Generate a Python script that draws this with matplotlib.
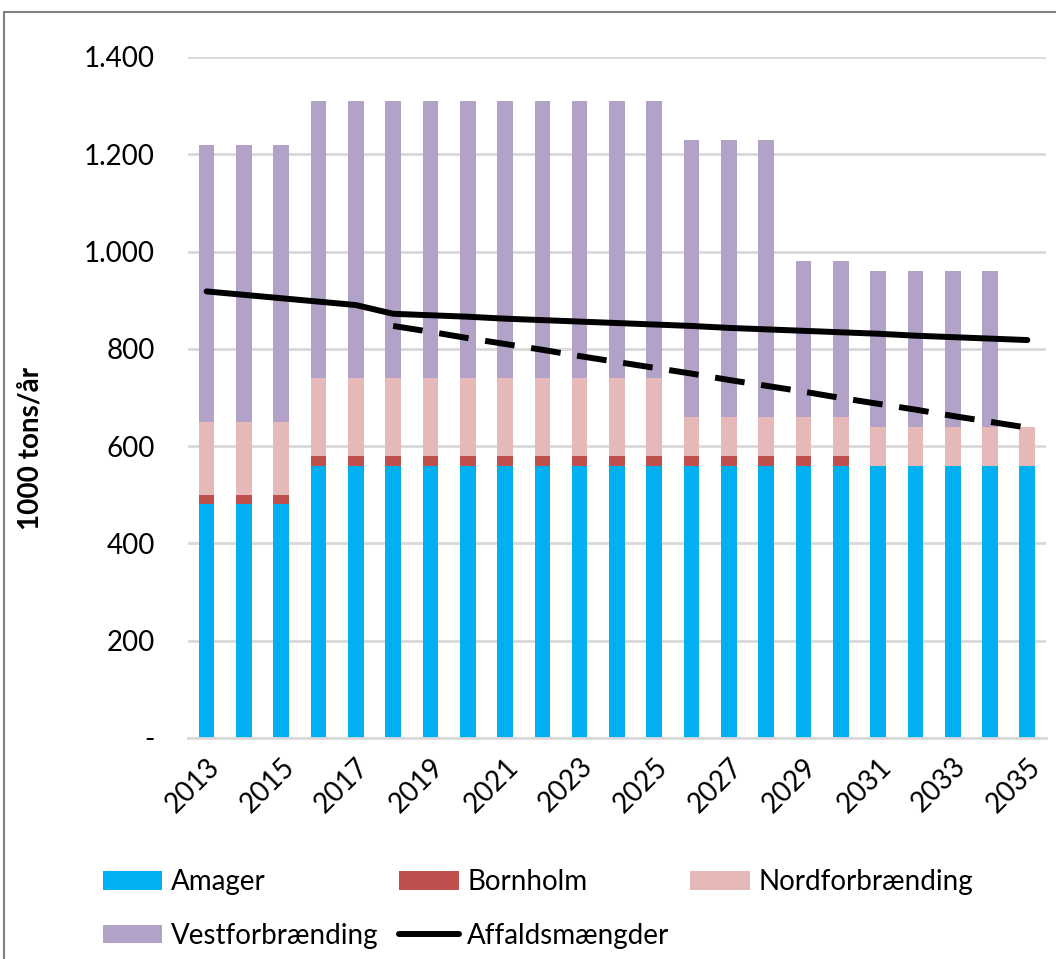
import matplotlib.pyplot as plt
import numpy as np
from matplotlib.patches import Rectangle

# data (1000 tons/år)
years = list(range(2013, 2036))
amager = [480, 480, 480, 560, 560, 560, 560, 560, 560, 560, 560, 560,
          560, 560, 560, 560, 560, 560, 560, 560, 560, 560, 560]
bornholm = [20, 20, 20, 20, 20, 20, 20, 20, 20, 20, 20, 20,
            20, 20, 20, 20, 20, 20, 0, 0, 0, 0, 0]
nordforbraending = [150, 150, 150, 160, 160, 160, 160, 160, 160, 160, 160, 160,
                    160, 80, 80, 80, 80, 80, 80, 80, 80, 80, 80]
vestforbraending = [570, 570, 570, 570, 570, 570, 570, 570, 570, 570, 570, 570,
                    570, 570, 570, 570, 320, 320, 320, 320, 320, 320, 0]
affald = [918, 911, 904, 897, 890, 872, 869, 866, 862, 859, 856, 853,
          850, 847, 843, 840, 837, 834, 831, 827, 824, 821, 818]
affald_reduceret = [None] * 5 + [847, 835, 822, 810, 798, 785, 773, 761,
                                 749, 736, 724, 712, 699, 687, 675, 662, 650, 638]

colors = {
    'Amager': '#00B0F0',
    'Bornholm': '#C0504D',
    'Nordforbrænding': '#E6B9B8',
    'Vestforbrænding': '#B3A2C7',
}

plt.rcParams['font.family'] = ['Lato', 'DejaVu Sans']
FS = 20

fig = plt.figure(figsize=(10.56, 9.59), dpi=100)
ax = fig.add_axes([0.178, 0.2305, 0.8125, 0.7101])

x = np.arange(len(years))
width = 0.42
bottom = np.zeros(len(years))
handles = {}
for name, vals in [('Amager', amager), ('Bornholm', bornholm),
                   ('Nordforbrænding', nordforbraending),
                   ('Vestforbrænding', vestforbraending)]:
    vals = np.array(vals, dtype=float)
    handles[name] = ax.bar(x, vals, width, bottom=bottom, color=colors[name],
                           label=name, zorder=2)
    bottom += vals

line, = ax.plot(x, affald, color='black', lw=4.3, solid_capstyle='round',
                label='Affaldsmængder', zorder=3)
red = np.array([np.nan if v is None else v for v in affald_reduceret])
ax.plot(x, red, color='black', lw=4.3, dashes=(5.0, 2.8), zorder=3)

ax.set_xlim(-0.5, len(years) - 0.5)
ax.set_ylim(0, 1400)
ax.set_yticks(range(0, 1401, 200))
ax.set_yticklabels(['-', '200', '400', '600', '800', '1.000', '1.200', '1.400'])
ax.yaxis.grid(True, color='#D9D9D9', lw=2, zorder=0)
ax.set_axisbelow(True)
for s in ['top', 'right', 'left']:
    ax.spines[s].set_visible(False)
ax.spines['bottom'].set_color('#D9D9D9')
ax.spines['bottom'].set_linewidth(2)
ax.tick_params(axis='y', length=0, pad=24, labelsize=FS)
ax.tick_params(axis='x', length=0, pad=11, labelsize=FS)

ax.set_xticks(x[::2])
ax.set_xticklabels([str(y) for y in years[::2]], rotation=45,
                   ha='right', va='top', rotation_mode='anchor')

fig.text(0.029, 0.532, '1000 tons/år', rotation=90, ha='center', va='center',
         fontsize=FS, fontweight='bold')

order = ['Amager', 'Vestforbrænding', 'Bornholm', None, 'Nordforbrænding']
hs, ls = [], []
for name in order:
    if name is None:
        hs.append(line)
        ls.append('Affaldsmængder')
    else:
        hs.append(handles[name])
        ls.append(name)
fig.legend(hs, ls, ncol=3, loc='upper left', bbox_to_anchor=(0.084, 0.108),
           frameon=False, fontsize=FS, handlelength=2.15, handleheight=0.65,
           handletextpad=0.3, columnspacing=0.75, labelspacing=0.98,
           borderpad=0)

fig.patches.append(Rectangle((0.004, -0.05), 1.2, 1.0375, transform=fig.transFigure,
                             fill=False, edgecolor='#808080', lw=1.5))

fig.savefig('out.png', dpi=100)
